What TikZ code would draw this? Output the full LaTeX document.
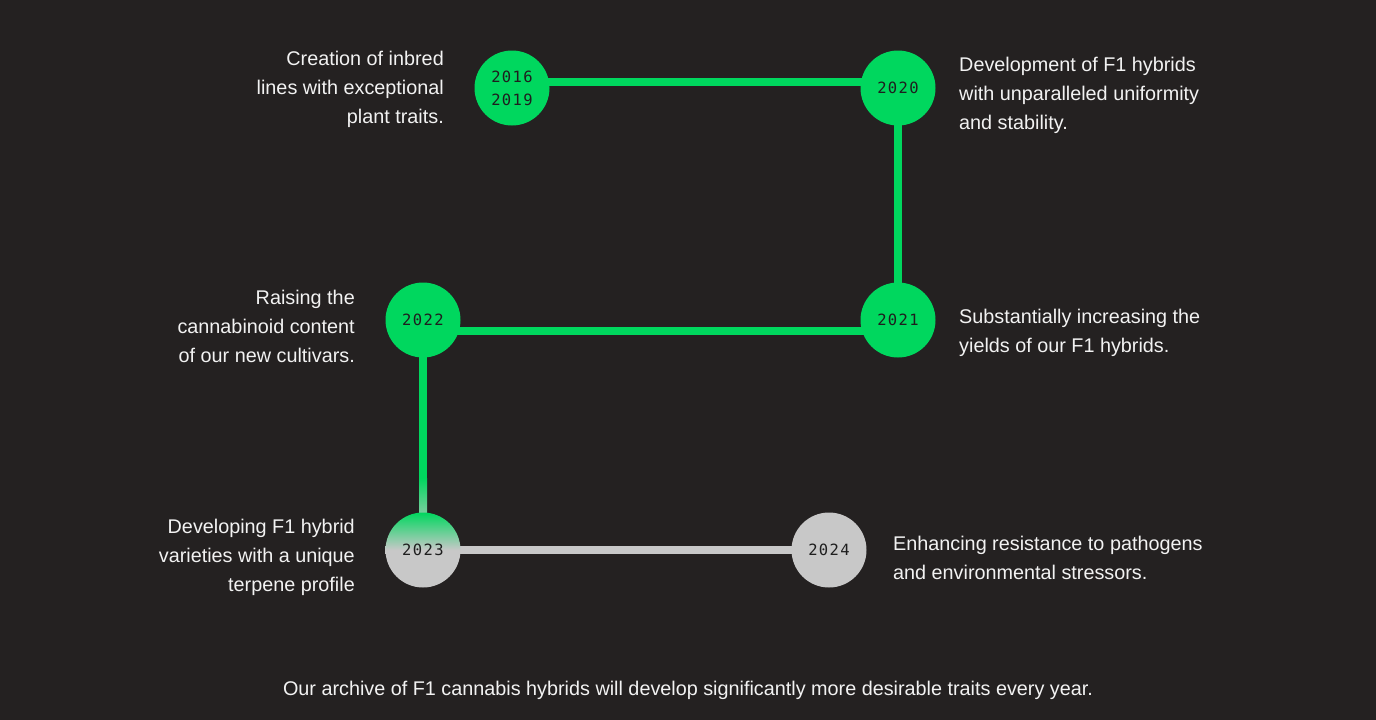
\documentclass[tikz,border=0pt]{standalone}
\usepackage{fontspec}
\setmainfont{Liberation Sans}
\newfontfamily\yearfont[LetterSpace=9]{DejaVu Sans Mono}
\usetikzlibrary{backgrounds,calc}
\definecolor{bg}{HTML}{242121}
\definecolor{grn}{HTML}{00D75E}
\definecolor{gry}{HTML}{C8C8C8}
\definecolor{txt}{HTML}{F2F2F2}
\definecolor{yr}{HTML}{1E1E1E}
\begin{document}
\begin{tikzpicture}[x=1pt,y=-1pt,
 year/.style={circle, minimum size=75pt, inner sep=0pt, font=\yearfont\fontsize{15.5}{23}\selectfont, text=yr, align=center},
 done/.style={year, fill=grn},
 todo/.style={year, fill=gry},
 link/.style={line width=8pt, draw=grn},
 linkgray/.style={line width=8pt, draw=gry},
 desc/.style={text=txt, font=\fontsize{19.8}{29}\selectfont, inner sep=0pt},
 descL/.style={desc, align=right, anchor=east},
 descR/.style={desc, align=left, anchor=west}]
\useasboundingbox (0,0) rectangle (1376,720);

\node[done] (A) at (512,88) {2016\\2019};
\node[done] (B) at (898,88) {2020};
\node[done] (C) at (898,320) {2021};
\node[done] (D) at (423,320) {2022};
\node[year, shade, top color=grn, bottom color=gry, middle color=gry] (E) at (423,550) {2023};
\node[todo] (F) at (829,550) {2024};
\coordinate (fade) at (423,478);

\begin{scope}[on background layer]
\fill[bg] (0,0) rectangle (1376,720);
\draw[link] ([yshift=6pt]A.center) -- ([yshift=6pt]B.center);
\draw[link] (B.center) -- (C.center);
\draw[link] ([yshift=-11pt]C.center) -- ([yshift=-11pt]D.center);
\draw[link] (D.center) -- (fade);
\shade[top color=grn, bottom color=grn!40!gry] ($(fade)+(-4,0)$) rectangle ($(E.north)+(4,0)$);
\draw[linkgray] (E.center) -- (F.center);
\end{scope}

\node[descL] (tA) at (444,89) {Creation of inbred\\lines with exceptional\\plant traits.};
\node[descR] (tB) at (959,95) {Development of F1 hybrids\\with unparalleled uniformity\\and stability.};
\node[descR] (tC) at (959,333) {Substantially increasing the\\yields of our F1 hybrids.};
\node[descL] (tD) at (355,326) {Raising the\\cannabinoid content\\of our new cultivars.};
\node[descL] (tE) at (355,557) {Developing F1 hybrid\\varieties with a unique\\terpene profile};
\node[descR] (tF) at (893,558) {Enhancing resistance to pathogens\\and environmental stressors.};
\node[desc] (foot) at (688,690) {Our archive of F1 cannabis hybrids will develop significantly more desirable traits every year.};
\end{tikzpicture}
\end{document}
